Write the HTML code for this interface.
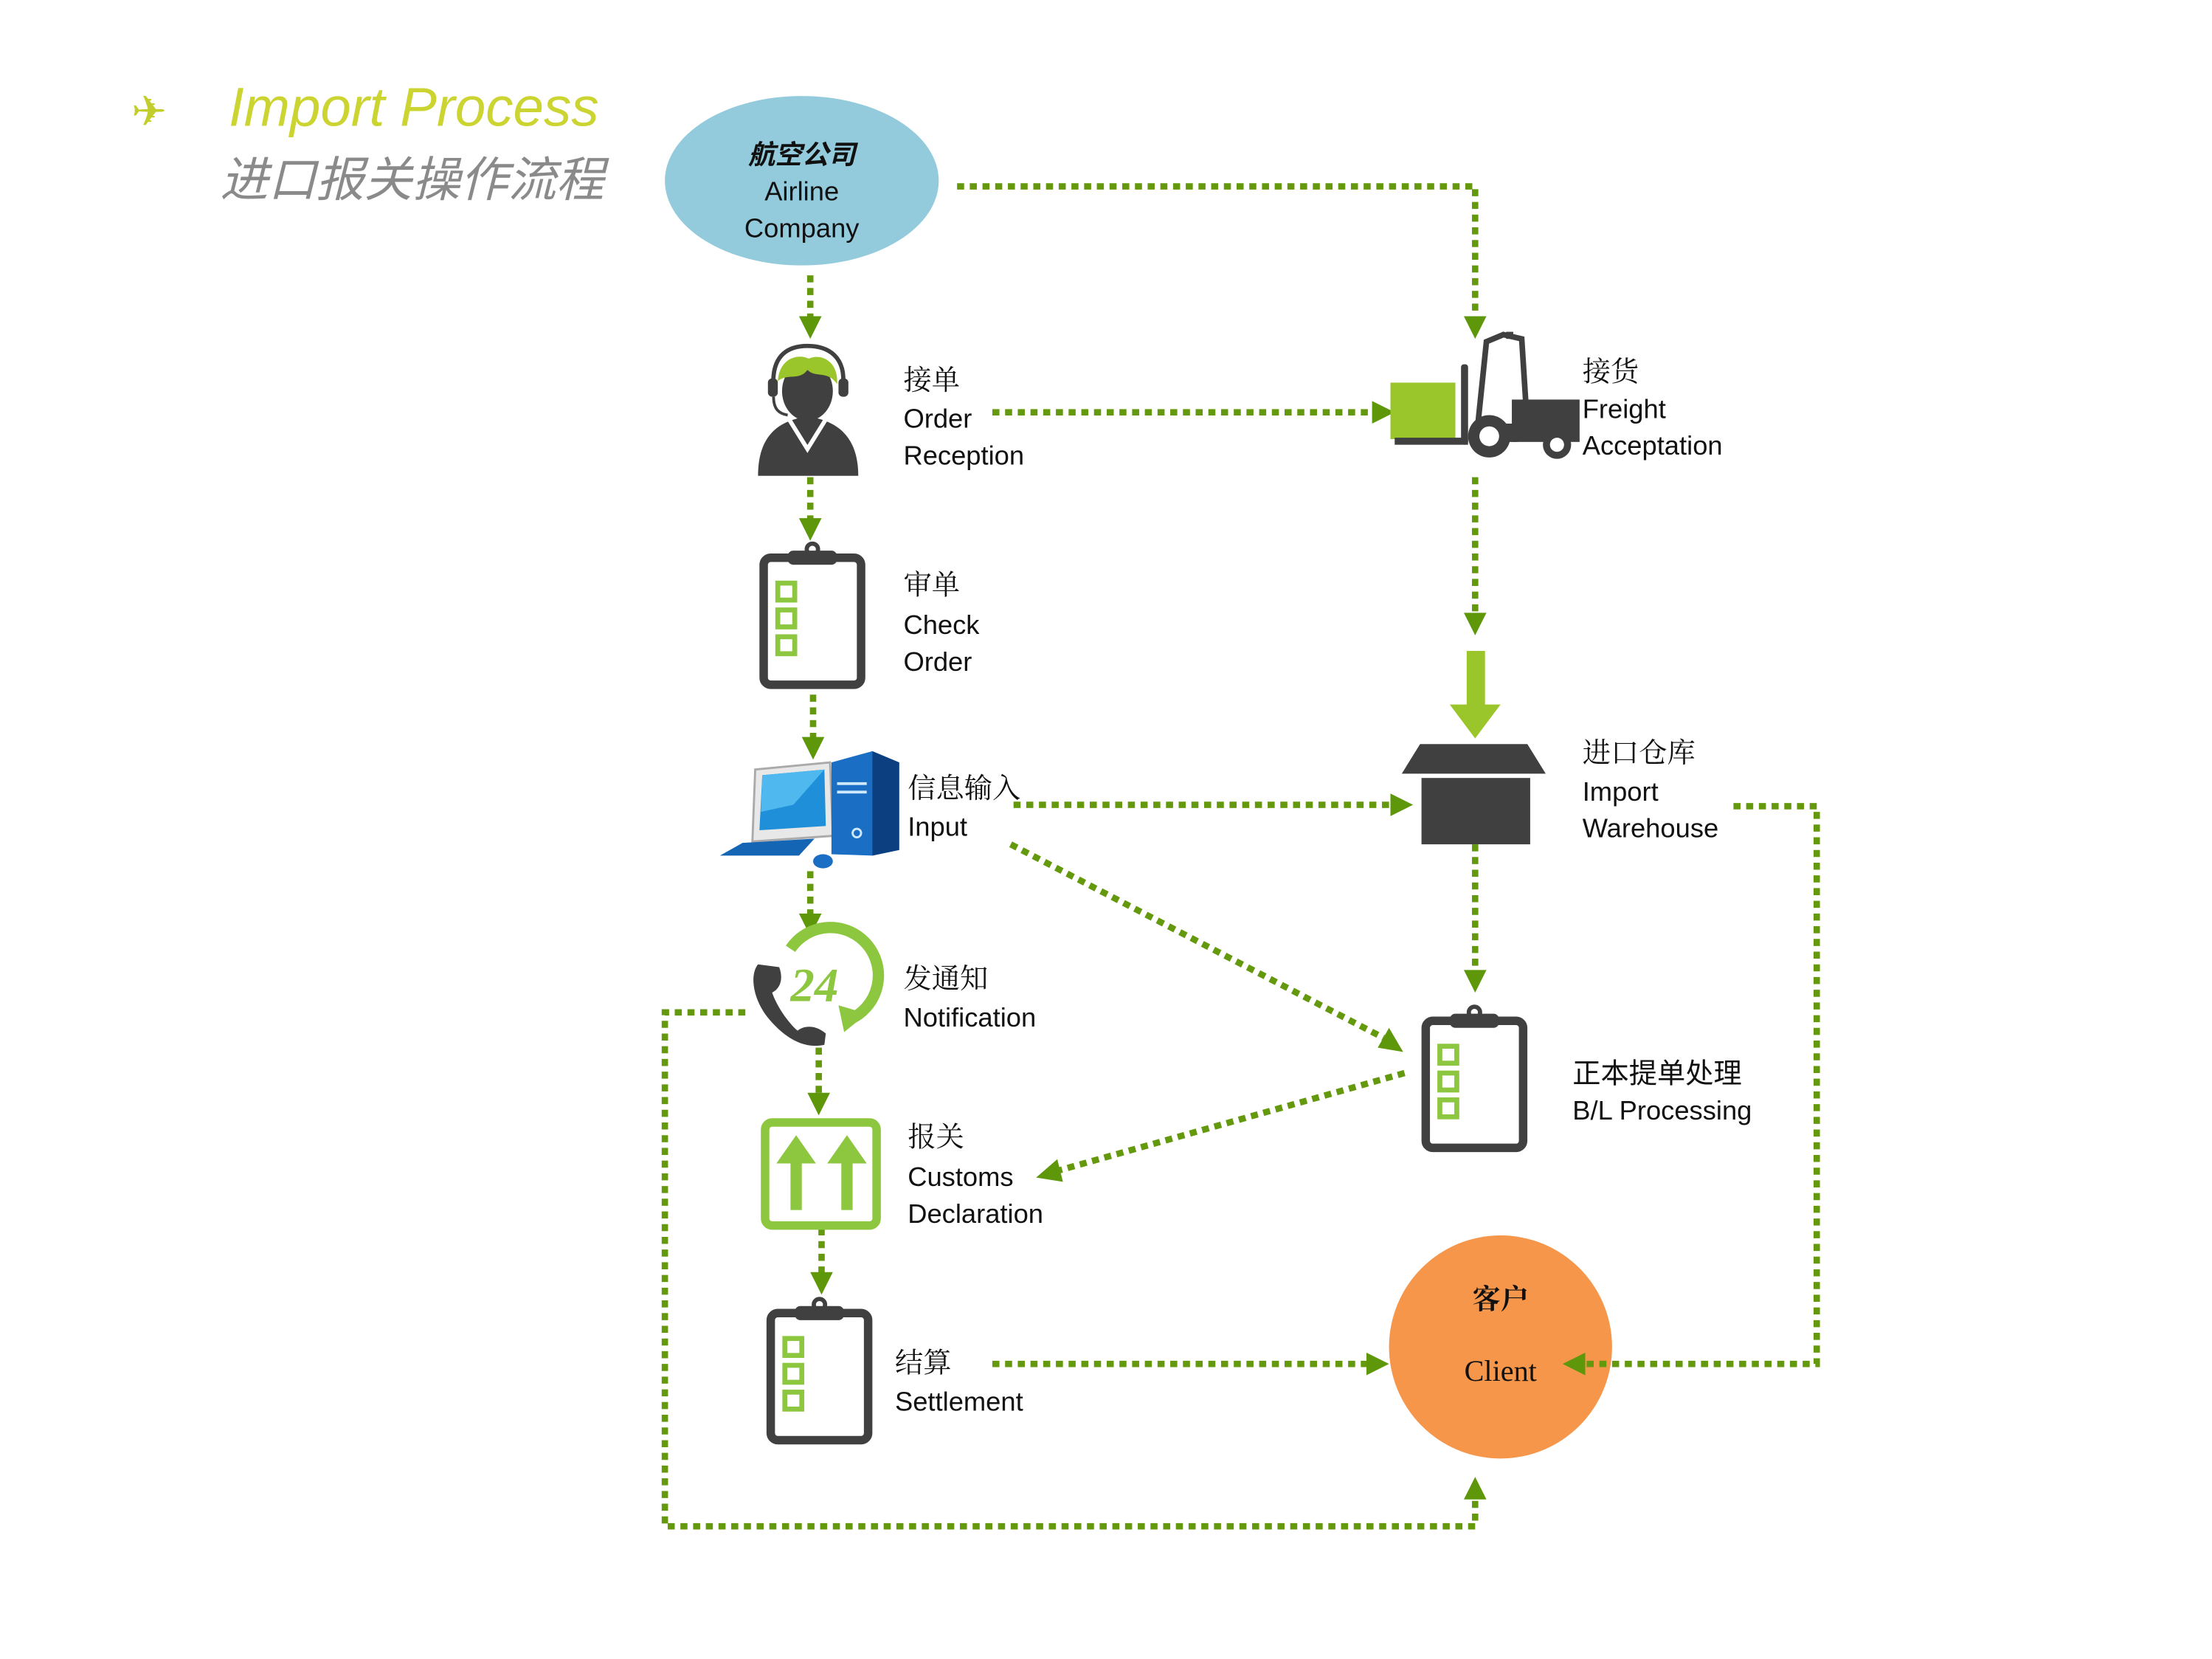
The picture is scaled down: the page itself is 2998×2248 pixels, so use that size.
<!DOCTYPE html>
<html><head><meta charset="utf-8"><style>
html,body{margin:0;padding:0;background:#fff;}
svg{display:block;}
.lat{font-family:"Liberation Sans","Noto Sans CJK SC",sans-serif;font-size:19px;fill:#111;}
.cn{font-family:"Liberation Serif","Noto Serif CJK SC",serif;font-size:20px;fill:#111;}
.cns{font-family:"Liberation Sans","Noto Sans CJK SC",sans-serif;font-size:20px;fill:#111;}
.dl{fill:none;stroke:#64990d;stroke-width:4.5;stroke-dasharray:5 4;}
.ah{fill:#5e980a;}
</style></head><body>
<svg width="2998" height="2248" viewBox="0 0 1567 1175" preserveAspectRatio="none" xmlns="http://www.w3.org/2000/svg">
<rect width="1567" height="1175" fill="#fff"/>
<text x="93" y="89" style="font-family:'DejaVu Sans',sans-serif;font-size:30px;fill:#c3cd2c">✈</text>
<text x="162" y="89" style="font-family:'Liberation Sans',sans-serif;font-style:italic;font-size:39px;fill:#cbd431">Import Process</text>
<text x="156" y="139" style="font-family:'Liberation Sans','Noto Sans CJK SC',sans-serif;font-style:italic;font-size:34px;fill:#8a8a8a">进口报关操作流程</text>

<ellipse cx="568" cy="128" rx="97" ry="60" fill="#93cbdc"/>
<text x="568" y="116" text-anchor="middle" style="font-family:'Liberation Sans','Noto Sans CJK SC',sans-serif;font-style:italic;font-weight:bold;font-size:19px;fill:#111">航空公司</text>
<text x="568" y="142" text-anchor="middle" class="lat">Airline</text>
<text x="568" y="168" text-anchor="middle" class="lat">Company</text>

<path class="dl" d="M678,132 H1045 V226"/>
<path class="ah" d="M1037,224 L1053,224 L1045,240Z"/>
<path class="dl" d="M574,195 V226"/>
<path class="ah" d="M566,224 L582,224 L574,240Z"/>
<path class="dl" d="M703,292 H972"/>
<path class="ah" d="M972,284 L972,300 L988,292Z"/>
<path class="dl" d="M574,338 V369"/>
<path class="ah" d="M566,367 L582,367 L574,383Z"/>
<path class="dl" d="M576,492 V524"/>
<path class="ah" d="M568,522 L584,522 L576,538Z"/>
<path class="dl" d="M718,570 H985"/>
<path class="ah" d="M985,562 L985,578 L1001,570Z"/>
<path class="dl" d="M716,598 L980,735"/>
<path class="ah" d="M976,742 L984,728 L994,745Z"/>
<path class="dl" d="M574,617 V649"/>
<path class="ah" d="M566,647 L582,647 L574,663Z"/>
<path class="dl" d="M1045,338 V436"/>
<path class="ah" d="M1037,434 L1053,434 L1045,450Z"/>
<rect x="1039" y="461" width="13" height="40" fill="#9ac62b"/>
<path d="M1027,499 L1063,499 L1045,523Z" fill="#9ac62b"/>
<path class="dl" d="M1045,598 V689"/>
<path class="ah" d="M1037,687 L1053,687 L1045,703Z"/>
<path class="dl" d="M528,717 H471 V1081 H1045 V1062"/>
<path class="ah" d="M1037,1062 L1053,1062 L1045,1046Z"/>
<path class="dl" d="M580,742 V776"/>
<path class="ah" d="M572,774 L588,774 L580,790Z"/>
<path class="dl" d="M995,760 L750,829"/>
<path class="ah" d="M749,821 L753,837 L734,834Z"/>
<path class="dl" d="M582,870 V903"/>
<path class="ah" d="M574,901 L590,901 L582,917Z"/>
<path class="dl" d="M703,966 H968"/>
<path class="ah" d="M968,958 L968,974 L984,966Z"/>

<g>
<path d="M537,337 C537,310 550,298 572,295 C594,298 608,310 608,337 Z" fill="#404040"/>
<polyline points="559,297 572,318 585,297" fill="none" stroke="#fff" stroke-width="3"/>
<ellipse cx="572" cy="277" rx="18" ry="21" fill="#404040"/>
<path d="M551,270 C552,254 565,250 573,254 C582,250 594,256 593,272 C586,262 578,268 572,262 C566,270 558,264 551,270Z" fill="#9ac62b"/>
<path d="M548,275 C546,250 560,245 572,245 C586,245 600,252 597,275" fill="none" stroke="#404040" stroke-width="3"/>
<rect x="544" y="268" width="7" height="13" rx="3" fill="#404040"/>
<rect x="594" y="268" width="7" height="13" rx="3" fill="#404040"/>
<path d="M548,281 C548,290 552,293 558,294" fill="none" stroke="#404040" stroke-width="2"/>
</g>

<g transform="translate(538,385)">
<rect x="3" y="10" width="69" height="90" rx="5" fill="#fff" stroke="#404040" stroke-width="6"/>
<rect x="20" y="5" width="35" height="10" rx="4" fill="#404040"/>
<circle cx="37.5" cy="4" r="4" fill="none" stroke="#404040" stroke-width="3"/>
<rect x="13" y="28" width="12" height="12" fill="none" stroke="#8dc63f" stroke-width="3.5"/>
<rect x="13" y="47" width="12" height="12" fill="none" stroke="#8dc63f" stroke-width="3.5"/>
<rect x="13" y="66" width="12" height="12" fill="none" stroke="#8dc63f" stroke-width="3.5"/>
</g>
<g transform="translate(1007,713)">
<rect x="3" y="10" width="69" height="90" rx="5" fill="#fff" stroke="#404040" stroke-width="6"/>
<rect x="20" y="5" width="35" height="10" rx="4" fill="#404040"/>
<circle cx="37.5" cy="4" r="4" fill="none" stroke="#404040" stroke-width="3"/>
<rect x="13" y="28" width="12" height="12" fill="none" stroke="#8dc63f" stroke-width="3.5"/>
<rect x="13" y="47" width="12" height="12" fill="none" stroke="#8dc63f" stroke-width="3.5"/>
<rect x="13" y="66" width="12" height="12" fill="none" stroke="#8dc63f" stroke-width="3.5"/>
</g>
<g transform="translate(543,920)">
<rect x="3" y="10" width="69" height="90" rx="5" fill="#fff" stroke="#404040" stroke-width="6"/>
<rect x="20" y="5" width="35" height="10" rx="4" fill="#404040"/>
<circle cx="37.5" cy="4" r="4" fill="none" stroke="#404040" stroke-width="3"/>
<rect x="13" y="28" width="12" height="12" fill="none" stroke="#8dc63f" stroke-width="3.5"/>
<rect x="13" y="47" width="12" height="12" fill="none" stroke="#8dc63f" stroke-width="3.5"/>
<rect x="13" y="66" width="12" height="12" fill="none" stroke="#8dc63f" stroke-width="3.5"/>
</g>

<g>
<path d="M535,545 L588,540 L590,592 L533,596Z" fill="#e8e8e8" stroke="#aaa" stroke-width="1.5"/>
<path d="M540,549 L584,545 L585,585 L538,588Z" fill="#1e8fd8"/>
<path d="M540,549 L584,545 L562,570 L539,575Z" fill="#4fb8ee"/>
<path d="M526,597 L577,594 L566,606 L510,606Z" fill="#1565b5"/>
<path d="M589,540 L618,532 L637,540 L637,602 L618,606 L589,605Z" fill="#1a6fc4"/>
<path d="M618,532 L637,540 L637,602 L618,606Z" fill="#0c3f80"/>
<rect x="593" y="554" width="21" height="2" fill="#cfe8fb"/>
<rect x="593" y="560" width="21" height="2" fill="#cfe8fb"/>
<circle cx="607" cy="590" r="3" fill="none" stroke="#cfe8fb" stroke-width="1.5"/>
<ellipse cx="583" cy="610" rx="7" ry="5" fill="#1a6fc4"/>
</g>

<g>
<path d="M560,672 A34,34 0 1 1 602,722" fill="none" stroke="#8dc63f" stroke-width="8"/>
<path d="M594,712 L614,718 L598,731Z" fill="#8dc63f"/>
<text x="577" y="709" text-anchor="middle" style="font-family:'Liberation Serif',serif;font-style:italic;font-weight:bold;font-size:34px;fill:#8dc63f">24</text>
<path d="M537,683 C531,690 533,708 545,722 C557,736 570,743 584,740 L585,732 C578,726 570,726 565,730 C558,724 550,712 547,703 C553,700 555,693 552,685Z" fill="#404040"/>
</g>

<g>
<rect x="542" y="795" width="79" height="73" rx="5" fill="#fff" stroke="#8dc63f" stroke-width="6"/>
<path d="M550,824 L564,804 L578,824 L568,824 L568,857 L560,857 L560,824Z" fill="#8dc63f"/>
<path d="M586,824 L600,804 L614,824 L604,824 L604,857 L596,857 L596,824Z" fill="#8dc63f"/>
</g>

<g>
<rect x="985" y="271" width="46" height="40" fill="#9ac62b"/>
<rect x="988" y="310" width="52" height="5" fill="#404040"/>
<rect x="1035" y="258" width="5" height="57" rx="2" fill="#404040"/>
<path d="M1047,300 L1053,242 L1065,237 L1078,240 L1081,287" fill="none" stroke="#404040" stroke-width="4"/>
<rect x="1067" y="235" width="5" height="5" fill="#404040"/>
<rect x="1071" y="283" width="48" height="30" fill="#404040"/>
<path d="M1045,300 L1075,300 L1075,313 L1045,313Z" fill="#404040"/>
<circle cx="1055" cy="309" r="15" fill="#404040"/>
<circle cx="1055" cy="309" r="7" fill="#fff"/>
<circle cx="1103" cy="315" r="10" fill="#404040"/>
<circle cx="1103" cy="315" r="5" fill="#fff"/>
</g>

<path d="M1006,527 L1082,527 L1095,548 L993,548Z" fill="#404040"/>
<rect x="1007" y="551" width="77" height="47" fill="#404040"/>

<circle cx="1063" cy="954" r="79" fill="#f5964a"/>
<text x="1063" y="927" text-anchor="middle" class="cn" style="font-weight:bold">客户</text>
<text x="1063" y="978" text-anchor="middle" style="font-family:'Liberation Serif',serif;font-size:21px;fill:#111">Client</text>
<path class="dl" d="M1228,571 H1287 V966 H1122"/>
<path class="ah" d="M1123,958 L1123,974 L1107,966Z"/>

<text x="640" y="276" class="cn">接单</text>
<text x="640" y="303" class="lat">Order</text>
<text x="640" y="329" class="lat">Reception</text>
<text x="640" y="421" class="cn">审单</text>
<text x="640" y="449" class="lat">Check</text>
<text x="640" y="475" class="lat">Order</text>
<text x="643" y="565" class="cn">信息输入</text>
<text x="643" y="592" class="lat">Input</text>
<text x="640" y="700" class="cn">发通知</text>
<text x="640" y="727" class="lat">Notification</text>
<text x="643" y="812" class="cn">报关</text>
<text x="643" y="840" class="lat">Customs</text>
<text x="643" y="866" class="lat">Declaration</text>
<text x="634" y="972" class="cn">结算</text>
<text x="634" y="999" class="lat">Settlement</text>
<text x="1121" y="270" class="cn">接货</text>
<text x="1121" y="296" class="lat">Freight</text>
<text x="1121" y="322" class="lat">Acceptation</text>
<text x="1121" y="540" class="cn">进口仓库</text>
<text x="1121" y="567" class="lat">Import</text>
<text x="1121" y="593" class="lat">Warehouse</text>
<text x="1114" y="767" class="cns">正本提单处理</text>
<text x="1114" y="793" class="lat">B/L Processing</text>
</svg>
</body></html>
